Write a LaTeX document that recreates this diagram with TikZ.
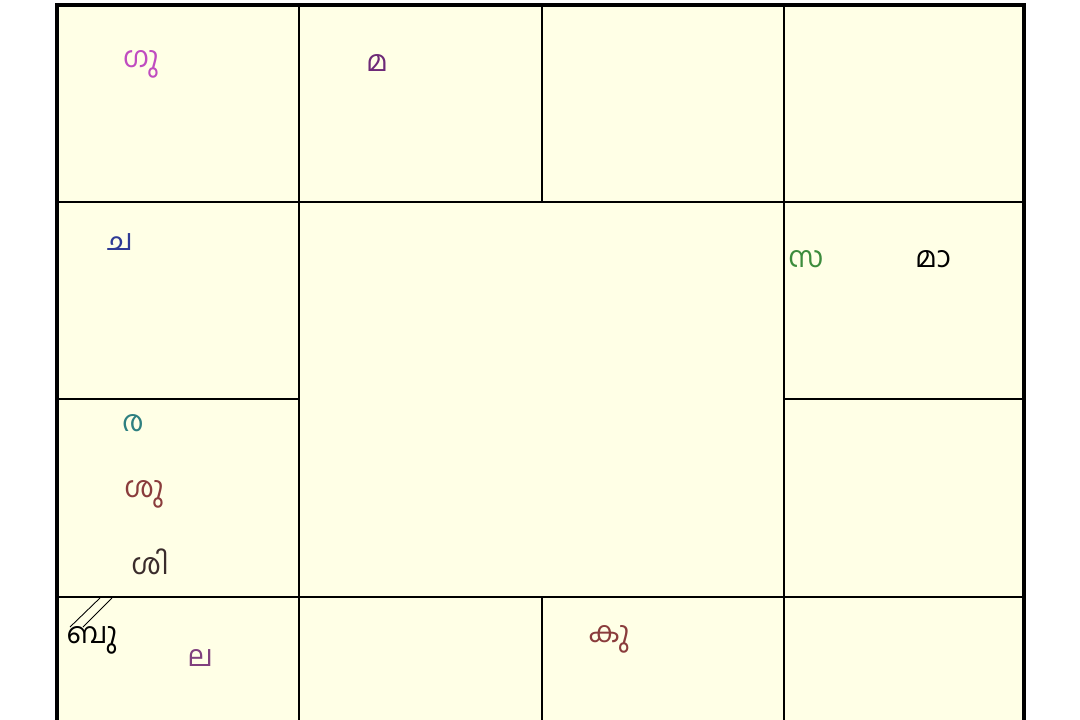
\documentclass[tikz,border=0pt]{standalone}
\usepackage{fontspec}
\newfontfamily\malfont[Script=Malayalam]{Hind Kochi}
\definecolor{Paper}{HTML}{FFFFE6}
\definecolor{Guru}{HTML}{C04CC0}
\definecolor{Kuja}{HTML}{6E2A78}
\definecolor{Chandra}{HTML}{2E3A96}
\definecolor{Surya}{HTML}{3C8C3C}
\definecolor{Rahu}{HTML}{2E8080}
\definecolor{Shukra}{HTML}{8A3C3C}
\definecolor{Shani}{HTML}{3A2C2C}
\definecolor{Lagna}{HTML}{80407E}
\tikzset{frame/.style={draw=black,line width=1.8pt},rule/.style={draw=black,line width=1pt},graha/.style={font=\malfont\fontsize{16.5}{16.5}\selectfont,inner sep=0pt}}

\begin{document}
\begin{tikzpicture}[x=0.02cm,y=-0.02cm]
\useasboundingbox (0,0) rectangle (1080,720);
\clip (0,0) rectangle (1080,720);
% chart squares
\fill[Paper] (57,5) rectangle (1024,794);
\draw[rule] (57,202) -- (1024,202);
\draw[rule] (57,597) -- (1024,597);
\draw[rule] (57,399) -- (299,399);
\draw[rule] (784,399) -- (1024,399);
\draw[rule] (299,5) -- (299,794);
\draw[rule] (784,5) -- (784,794);
\draw[rule] (542,5) -- (542,202);
\draw[rule] (542,597) -- (542,794);
\draw[frame] (57,5) rectangle (1024,794);
% grahas
\node[graha,text=Guru] (guru) at (141,64) {ഗു};
\node[graha,text=Kuja] (kuja) at (377,63) {മ};
\node[graha,text=Chandra] (chandra) at (120,242) {ച};
\node[graha,text=Surya] (surya) at (806,259) {സ};
\node[graha,text=black] (mandi) at (933,259) {മാ};
\node[graha,text=Rahu] (rahu) at (133,423) {ര};
\node[graha,text=Shukra] (shukra) at (144,494) {ശു};
\node[graha,text=Shani] (shani) at (150,562) {ശി};
\node[graha,text=black] (budha) at (92,640) {ബു};
\node[graha,text=Lagna] (lagna) at (200,658) {ല};
\node[graha,text=Shukra] (ketu) at (609,639) {കു};
% lagna mark
\draw[line width=.5pt] (70,627) -- (100,598);
\draw[line width=.5pt] (83,627) -- (112,598);
\end{tikzpicture}
\end{document}
